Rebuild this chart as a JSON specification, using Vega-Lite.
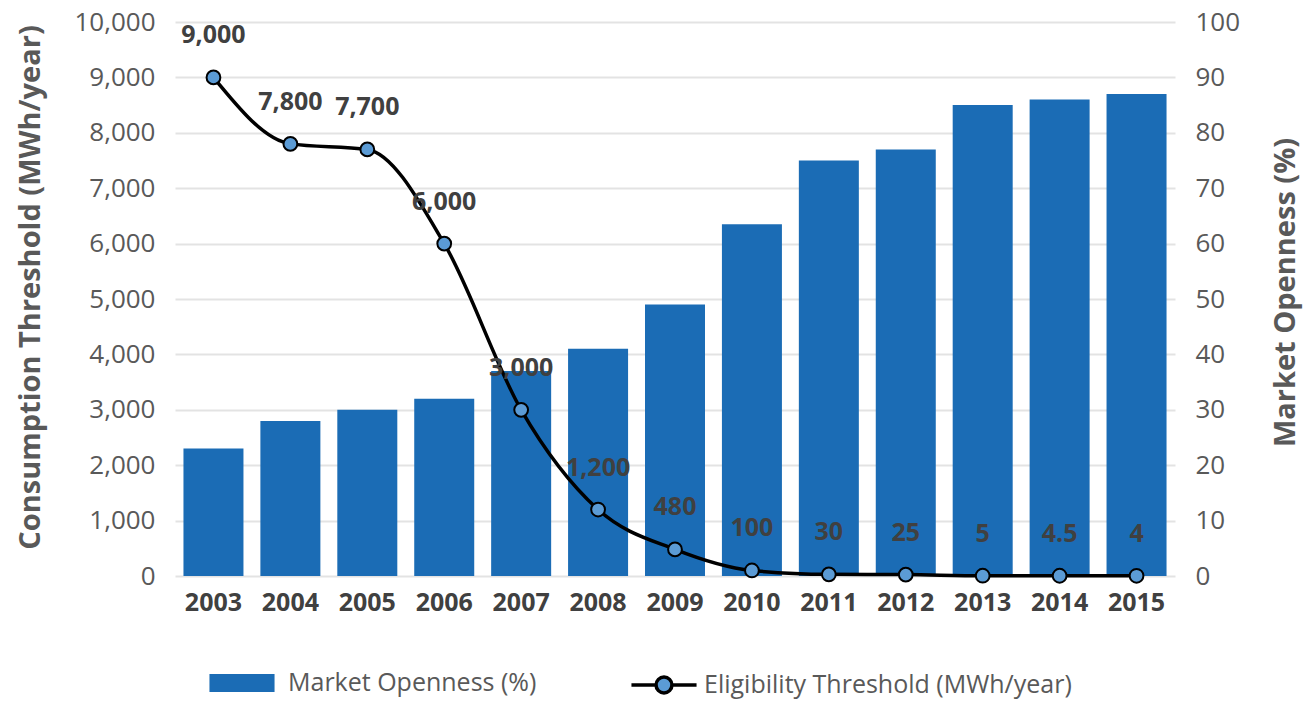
{
  "$schema": "https://vega.github.io/schema/vega-lite/v6.json",
  "width": 1000,
  "height": 554,
  "autosize": {"type": "none"},
  "padding": {"left": 175, "top": 22, "right": 134, "bottom": 126},
  "background": "white",
  "config": {
    "view": {"stroke": null},
    "font": "Open Sans",
    "axis": {"domain": false, "ticks": false, "labelColor": "#595959", "titleColor": "#595959", "labelFont": "Open Sans", "titleFont": "Open Sans"},
    "legend": {"labelFont": "Open Sans", "labelColor": "#595959", "labelFontSize": 25, "labelLimit": 0, "title": null}
  },
  "data": {
    "values": [
      {"year": "2003", "openness": 23, "threshold": 9000, "label": "9,000"},
      {"year": "2004", "openness": 28, "threshold": 7800, "label": "7,800"},
      {"year": "2005", "openness": 30, "threshold": 7700, "label": "7,700"},
      {"year": "2006", "openness": 32, "threshold": 6000, "label": "6,000"},
      {"year": "2007", "openness": 37, "threshold": 3000, "label": "3,000"},
      {"year": "2008", "openness": 41, "threshold": 1200, "label": "1,200"},
      {"year": "2009", "openness": 49, "threshold": 480, "label": "480"},
      {"year": "2010", "openness": 63.5, "threshold": 100, "label": "100"},
      {"year": "2011", "openness": 75, "threshold": 30, "label": "30"},
      {"year": "2012", "openness": 77, "threshold": 25, "label": "25"},
      {"year": "2013", "openness": 85, "threshold": 5, "label": "5"},
      {"year": "2014", "openness": 86, "threshold": 4.5, "label": "4.5"},
      {"year": "2015", "openness": 87, "threshold": 4, "label": "4"}
    ]
  },
  "encoding": {
    "x": {
      "field": "year",
      "type": "ordinal",
      "scale": {"paddingInner": 0.22, "paddingOuter": 0.11},
      "axis": {"title": null, "labelAngle": 0, "labelFontSize": 25, "labelFontWeight": "bold", "labelColor": "#404040", "labelPadding": 14}
    }
  },
  "layer": [
    {
      "mark": {"type": "bar", "color": "#1b6cb5"},
      "encoding": {
        "y": {
          "field": "openness",
          "type": "quantitative",
          "scale": {"domain": [0, 100]},
          "axis": {
            "orient": "right",
            "title": "Market Openness (%)",
            "values": [0, 10, 20, 30, 40, 50, 60, 70, 80, 90, 100],
            "grid": false,
            "labelFontSize": 26,
            "labelAlign": "left",
            "labelPadding": 20,
            "titleFontSize": 29,
            "titleFontWeight": "bold",
            "titleAngle": -90,
            "titleBaseline": "middle",
            "titleX": 110,
            "titleY": 270
          }
        },
        "fill": {
          "datum": "Market Openness (%)",
          "scale": {"range": ["#1b6cb5"]},
          "legend": {
            "orient": "none",
            "legendX": 52,
            "legendY": 646,
            "symbolType": "M-2.17,-0.6H2.17V0.6H-2.17Z",
            "symbolSize": 900,
            "symbolStrokeWidth": 0,
            "labelOffset": 31
          }
        }
      }
    },
    {
      "encoding": {
        "y": {
          "field": "threshold",
          "type": "quantitative",
          "scale": {"domain": [0, 10000]},
          "axis": {
            "orient": "left",
            "title": "Consumption Threshold (MWh/year)",
            "values": [0, 1000, 2000, 3000, 4000, 5000, 6000, 7000, 8000, 9000, 10000],
            "format": ",d",
            "grid": true,
            "gridColor": "#e3e3e3",
            "gridWidth": 2,
            "labelFontSize": 26,
            "labelPadding": 20,
            "titleFontSize": 29,
            "titleFontWeight": "bold",
            "titleAngle": -90,
            "titleBaseline": "middle",
            "titleX": -145,
            "titleY": 265
          }
        }
      },
      "layer": [
        {
          "mark": {"type": "line", "color": "black", "strokeWidth": 3.5, "interpolate": "monotone"}
        },
        {
          "mark": {"type": "point", "filled": true, "fill": "#5b9bd5", "stroke": "black", "strokeWidth": 2, "size": 190, "opacity": 1},
          "encoding": {
            "stroke": {
              "datum": "Eligibility Threshold (MWh/year)",
              "scale": {"range": ["black"]},
              "legend": {
                "orient": "none",
                "legendX": 472,
                "legendY": 646,
                "symbolType": "M-2.17,0H-0.53M0.53,0H2.17M0.53,0A0.53,0.53 0 1 1 -0.53,0A0.53,0.53 0 1 1 0.53,0Z",
                "symbolSize": 900,
                "symbolStrokeWidth": 3.5,
                "symbolFillColor": "#5b9bd5",
                "symbolStrokeColor": "black",
                "labelOffset": 23,
                "encode": {"symbols": {"update": {"fill": {"value": "#5b9bd5"}, "stroke": {"value": "black"}, "strokeWidth": {"value": 3.5}, "opacity": {"value": 1}}}}
              }
            }
          }
        },
        {
          "mark": {"type": "text", "dy": -42, "fontSize": 25, "fontWeight": "bold", "color": "#404040", "font": "Open Sans"},
          "encoding": {"text": {"field": "label"}}
        }
      ]
    }
  ],
  "resolve": {"scale": {"y": "independent", "fill": "independent", "stroke": "independent"}}
}
